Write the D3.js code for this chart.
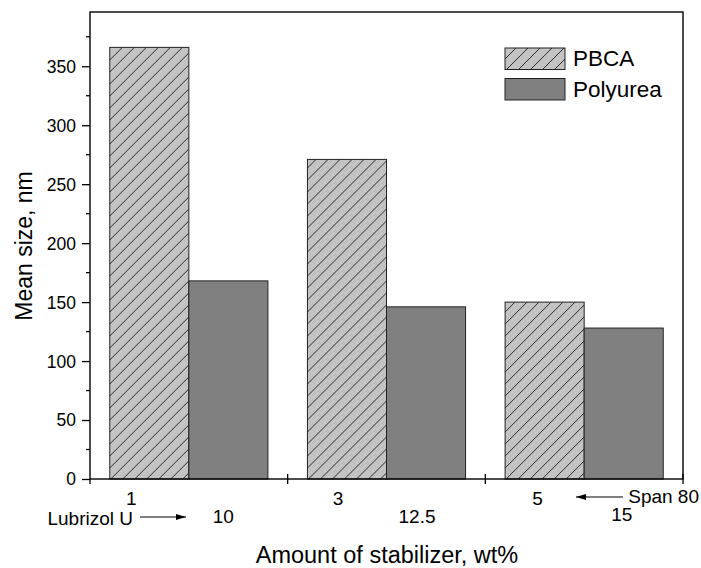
<!DOCTYPE html>
<html>
<head>
<meta charset="utf-8">
<script src="https://cdn.jsdelivr.net/npm/d3@7/dist/d3.min.js"></script>
<style>
  html, body { margin: 0; padding: 0; background: #fff; }
  svg { display: block; }
  text { font-family: "Liberation Sans", Arial, sans-serif; fill: #000; }
</style>
</head>
<body>
<svg id="chart" width="701" height="568"></svg>
<script>
// ---- data ----
const groups = ["g1", "g2", "g3"];
const series = ["PBCA", "Polyurea"];
const pbcaValues = [366, 271, 150];
const polyureaValues = [168, 146, 128];
const yTicks = [0, 50, 100, 150, 200, 250, 300, 350];
const lubrizolLabels = ["1", "3", "5"];
const spanLabels = ["10", "12.5", "15"];
const yTitle = "Mean size, nm";
const xTitle = "Amount of stabilizer, wt%";

// ---- layout ----
const m = { left: 90, top: 12, right: 683, bottom: 479 };
const svg = d3.select("#chart");

const y = d3.scaleLinear().domain([0, 396]).range([m.bottom, m.top]);
const x0 = d3.scaleBand().domain(groups).range([m.left, m.right])
  .paddingInner(0.2).paddingOuter(0.1);
const x1 = d3.scaleBand().domain(series).range([0, x0.bandwidth()]).padding(0);
const xb = d3.scaleLinear().domain([0, groups.length]).range([m.left, m.right]);

// hatch pattern
const defs = svg.append("defs");
const pat = defs.append("pattern").attr("id", "hatch")
  .attr("patternUnits", "userSpaceOnUse").attr("width", 12).attr("height", 12);
pat.append("rect").attr("width", 12).attr("height", 12).attr("fill", "#c3c3c3");
pat.append("path").attr("d", "M0,12 L12,0 M-3,3 L3,-3 M9,15 L15,9")
  .attr("stroke", "#1a1a1a").attr("stroke-width", 0.9);

const fills = { PBCA: "url(#hatch)", Polyurea: "#808080" };
const data = groups.map((g, i) => ({ g, vals: [
  { s: "PBCA", v: pbcaValues[i] }, { s: "Polyurea", v: polyureaValues[i] } ] }));

// bars
const gg = svg.append("g").selectAll("g").data(data).join("g")
  .attr("transform", d => `translate(${x0(d.g)},0)`);
gg.selectAll("rect").data(d => d.vals).join("rect")
  .attr("x", d => x1(d.s)).attr("width", x1.bandwidth())
  .attr("y", d => y(d.v)).attr("height", d => y(0) - y(d.v))
  .attr("fill", d => fills[d.s]).attr("stroke", "#222").attr("stroke-width", 1);

// frame
svg.append("rect").attr("x", m.left).attr("y", m.top)
  .attr("width", m.right - m.left).attr("height", m.bottom - m.top)
  .attr("fill", "none").attr("stroke", "#000").attr("stroke-width", 1.4);

// y axis
const yAxis = svg.append("g").attr("transform", `translate(${m.left},0)`)
  .call(d3.axisLeft(y).tickValues(yTicks).tickSize(8).tickPadding(6));
yAxis.select(".domain").remove();
yAxis.selectAll(".tick line").attr("stroke", "#000").attr("stroke-width", 1.3);
yAxis.selectAll(".tick text").attr("font-size", 17.5)
  .attr("font-family", "Liberation Sans, Arial, sans-serif").attr("dy", "0.34em");
// minor ticks
const minor = d3.range(25, 396, 50);
svg.append("g").selectAll("line").data(minor).join("line")
  .attr("x1", m.left - 4).attr("x2", m.left).attr("y1", d => y(d)).attr("y2", d => y(d))
  .attr("stroke", "#000").attr("stroke-width", 1.3);

// x axis ticks (crossing)
svg.append("g").selectAll("line").data(d3.range(0, groups.length + 1)).join("line")
  .attr("x1", d => xb(d)).attr("x2", d => xb(d))
  .attr("y1", d => d === 0 ? m.bottom : m.bottom - 5).attr("y2", m.bottom + 5)
  .attr("stroke", "#000").attr("stroke-width", 1.3);

// category labels
const fs = 19;
const row1Off = [-18, -9, -7];
const row2Off = [-5, -9, -2];
svg.append("g").selectAll("text").data(lubrizolLabels).join("text")
  .attr("x", (d, i) => x0(groups[i]) + x1("PBCA") + x1.bandwidth() / 2 + row1Off[i])
  .attr("y", 505).attr("text-anchor", "middle").attr("font-size", fs).text(d => d);
svg.append("g").selectAll("text").data(spanLabels).join("text")
  .attr("x", (d, i) => x0(groups[i]) + x1("Polyurea") + x1.bandwidth() / 2 + row2Off[i])
  .attr("y", (d, i) => i === 2 ? 521 : 523).attr("text-anchor", "middle").attr("font-size", fs).text(d => d);

// annotations
svg.append("text").attr("x", 133).attr("y", 525).attr("text-anchor", "end")
  .attr("font-size", fs).text("Lubrizol U");
svg.append("text").attr("x", 699).attr("y", 503).attr("text-anchor", "end")
  .attr("font-size", fs).text("Span 80");
// arrows
const arrow = (xa, xb2, yy) => {
  svg.append("line").attr("x1", xa).attr("x2", xb2).attr("y1", yy).attr("y2", yy)
    .attr("stroke", "#000").attr("stroke-width", 1.2);
  const dir = Math.sign(xb2 - xa);
  svg.append("path")
    .attr("d", `M${xb2},${yy} L${xb2 - dir * 10},${yy - 3} L${xb2 - dir * 10},${yy + 3} Z`)
    .attr("fill", "#000");
};
arrow(140, 186, 517);
arrow(623, 576, 497);

// axis titles
svg.append("text").attr("x", 387).attr("y", 563).attr("text-anchor", "middle")
  .attr("font-size", 23.5).text(xTitle);
svg.append("text").attr("transform", "translate(32,246) rotate(-90)")
  .attr("text-anchor", "middle").attr("font-size", 23).text(yTitle);

// legend
const leg = svg.append("g");
series.forEach((s, i) => {
  const yy = 48 + i * 30.5;
  leg.append("rect").attr("x", 505).attr("y", yy).attr("width", 60).attr("height", 21.5)
    .attr("fill", fills[s]).attr("stroke", "#222").attr("stroke-width", 1);
  leg.append("text").attr("x", 573).attr("y", yy + 18).attr("font-size", 22.5).text(s);
});
</script>
</body>
</html>
